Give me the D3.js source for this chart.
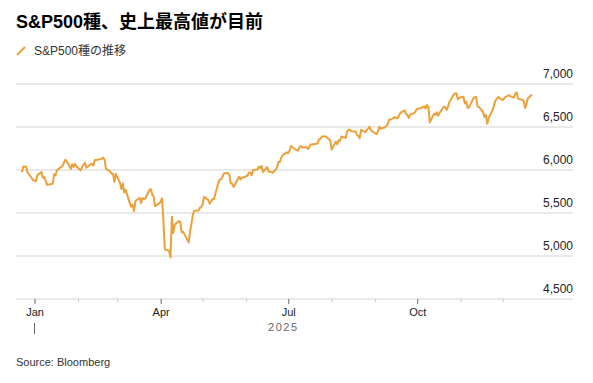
<!DOCTYPE html>
<html>
<head>
<meta charset="utf-8">
<script src="https://cdn.jsdelivr.net/npm/d3@7"></script>
<style>
  body { margin: 0; background: #fff; }
  svg { display: block; font-family: "Liberation Sans", Arial, "Noto Sans CJK JP", sans-serif; }
</style>
</head>
<body>
<svg></svg>
<script>
// S&P500 daily closes, one row per month
const months = ["2024-12", "2025-01", "2025-02", "2025-03", "2025-04", "2025-05", "2025-06",
                "2025-07", "2025-08", "2025-09", "2025-10", "2025-11", "2025-12"]

const days = [
  [23, 24, 26, 27, 30, 31],
  [2, 3, 6, 7, 8, 10, 13, 14, 15, 16, 17, 21, 22, 23, 24, 27, 28, 29, 30, 31],
  [3, 4, 5, 6, 7, 10, 11, 12, 13, 14, 18, 19, 20, 21, 24, 25, 26, 27, 28],
  [3, 4, 5, 6, 7, 10, 11, 12, 13, 14, 17, 18, 19, 20, 21, 24, 25, 26, 27, 28, 31],
  [1, 2, 3, 4, 7, 8, 9, 10, 11, 14, 15, 16, 17, 21, 22, 23, 24, 25, 28, 29, 30],
  [1, 2, 5, 6, 7, 8, 9, 12, 13, 14, 15, 16, 19, 20, 21, 22, 23, 27, 28, 29, 30],
  [2, 3, 4, 5, 6, 9, 10, 11, 12, 13, 16, 17, 18, 20, 23, 24, 25, 26, 27, 30],
  [1, 2, 3, 7, 8, 9, 10, 11, 14, 15, 16, 17, 18, 21, 22, 23, 24, 25, 28, 29, 30, 31],
  [1, 4, 5, 6, 7, 8, 11, 12, 13, 14, 15, 18, 19, 20, 21, 22, 25, 26, 27, 28, 29],
  [2, 3, 4, 5, 8, 9, 10, 11, 12, 15, 16, 17, 18, 19, 22, 23, 24, 25, 26, 29, 30],
  [1, 2, 3, 6, 7, 8, 9, 10, 13, 14, 15, 16, 17, 20, 21, 22, 23, 24, 27, 28, 29, 30, 31],
  [3, 4, 5, 6, 7, 10, 11, 12, 13, 14, 17, 18, 19, 20, 21, 24, 25, 26, 28],
  [1, 2, 3, 4, 5, 8, 9, 10, 11, 12, 15, 16, 17, 18, 19, 22]
]

const closes = [
  [5974, 6040, 6038, 5971, 5907, 5882],
  [5869, 5942, 5975, 5909, 5918, 5827, 5836, 5843, 5950, 5937, 5997, 6049, 6086, 6119, 6101, 6012, 6068, 6039, 6071, 6041],
  [5995, 6038, 6061, 6084, 6026, 6066, 6069, 6052, 6115, 6115, 6130, 6144, 6118, 6013, 5983, 5955, 5956, 5862, 5955],
  [5850, 5778, 5843, 5739, 5770, 5615, 5572, 5599, 5522, 5639, 5675, 5615, 5675, 5663, 5668, 5768, 5777, 5712, 5693, 5581, 5612],
  [5633, 5671, 5397, 5074, 5062, 4983, 5457, 5268, 5363, 5406, 5397, 5276, 5283, 5158, 5288, 5376, 5485, 5525, 5529, 5561, 5569],
  [5604, 5687, 5650, 5607, 5631, 5664, 5660, 5844, 5887, 5893, 5917, 5958, 5964, 5940, 5845, 5842, 5803, 5922, 5889, 5912, 5912],
  [5936, 5970, 5971, 5939, 6000, 6006, 6039, 6022, 6045, 5977, 6033, 5983, 5981, 5968, 6025, 6092, 6092, 6141, 6173, 6205],
  [6198, 6227, 6279, 6230, 6226, 6263, 6280, 6260, 6269, 6244, 6264, 6297, 6297, 6306, 6310, 6359, 6363, 6389, 6390, 6371, 6363, 6339],
  [6238, 6330, 6299, 6345, 6340, 6389, 6373, 6446, 6467, 6469, 6450, 6449, 6411, 6396, 6370, 6467, 6439, 6466, 6481, 6502, 6460],
  [6416, 6448, 6502, 6482, 6495, 6513, 6532, 6587, 6584, 6615, 6607, 6600, 6632, 6664, 6694, 6657, 6638, 6605, 6644, 6661, 6688],
  [6711, 6715, 6716, 6740, 6715, 6754, 6735, 6553, 6655, 6644, 6671, 6629, 6664, 6735, 6735, 6699, 6738, 6792, 6875, 6891, 6891, 6822, 6840],
  [6852, 6772, 6796, 6720, 6729, 6832, 6847, 6851, 6737, 6734, 6672, 6617, 6642, 6539, 6603, 6705, 6766, 6813, 6849],
  [6813, 6829, 6850, 6857, 6870, 6847, 6841, 6887, 6901, 6827, 6817, 6800, 6721, 6775, 6835, 6878]
]

const yTicks = [4500, 5000, 5500, 6000, 6500, 7000]

const title = "S&P500種、史上最高値が目前",
      legendLabel = "S&P500種の推移",
      yearLabel = "2025",
      source = "Source: Bloomberg"

const width = 593, height = 383
const lineColor = "#eba03a"
const left = 16, right = 573

const parseDay = d3.utcParse("%Y-%m-%d")
const data = months.flatMap((m, i) => days[i].map((d, j) => ({
  date: parseDay(`${m}-${String(d).padStart(2, "0")}`),
  value: closes[i][j]
})))

const svg = d3.select("svg")
    .attr("width", width)
    .attr("height", height)

const x = d3.scaleUtc()
    .domain([new Date(Date.UTC(2025, 0, 1)), new Date(Date.UTC(2025, 11, 1))])
    .range([34.5, 502.7])

const y = d3.scaleLinear()
    .domain([4500, 7000])
    .range([299, 84])

// gridlines + labels
svg.append("g")
  .selectAll("line")
  .data(yTicks)
  .join("line")
    .attr("x1", left)
    .attr("x2", right)
    .attr("y1", d => y(d))
    .attr("y2", d => y(d))
    .attr("stroke", "#e2e2e2")
    .attr("stroke-width", 1.5)

svg.append("g")
  .selectAll("text")
  .data(yTicks)
  .join("text")
    .attr("x", right)
    .attr("y", d => y(d) - 6)
    .attr("text-anchor", "end")
    .attr("font-size", 12)
    .attr("fill", "#222")
    .text(d3.format(","))

// minor month ticks
svg.append("g")
    .attr("transform", `translate(0,${y(4500)})`)
    .call(d3.axisBottom(x).ticks(d3.utcMonth.every(1)).tickSize(3).tickFormat(""))
    .call(g => g.select(".domain").remove())
    .call(g => g.selectAll("line").attr("stroke", "#c8c8c8"))

// quarter ticks
svg.append("g")
    .attr("transform", `translate(0,${y(4500)})`)
    .call(d3.axisBottom(x).ticks(d3.utcMonth.every(3)).tickSize(5).tickPadding(4).tickFormat(d3.utcFormat("%b")))
    .call(g => g.select(".domain").remove())
    .call(g => g.selectAll("line").attr("stroke", "#777"))
    .call(g => g.selectAll("text")
        .attr("font-family", null)
        .attr("font-size", 11)
        .attr("fill", "#222"))

// year marker
const yearStart = new Date(Date.UTC(2025, 0, 1))
const lastDate = data[data.length - 1].date
svg.append("line")
    .attr("x1", x(yearStart))
    .attr("x2", x(yearStart))
    .attr("y1", 323)
    .attr("y2", 334)
    .attr("stroke", "#666")

svg.append("text")
    .attr("x", (x(yearStart) + x(lastDate)) / 2)
    .attr("y", 331)
    .attr("text-anchor", "middle")
    .attr("font-size", 11)
    .attr("letter-spacing", 1.5)
    .attr("fill", "#666")
    .text(yearLabel)

// price line
const line = d3.line()
    .x(d => x(d.date))
    .y(d => y(d.value))

svg.append("path")
    .datum(data)
    .attr("fill", "none")
    .attr("stroke", lineColor)
    .attr("stroke-width", 2)
    .attr("stroke-linejoin", "round")
    .attr("d", line)

// header
svg.append("text")
    .attr("x", 16)
    .attr("y", 28)
    .attr("font-size", 18)
    .attr("font-weight", "bold")
    .attr("fill", "#000")
    .text(title)

svg.append("line")
    .attr("x1", 17).attr("y1", 55)
    .attr("x2", 25).attr("y2", 47)
    .attr("stroke", lineColor)
    .attr("stroke-width", 2)

svg.append("text")
    .attr("x", 34)
    .attr("y", 55)
    .attr("font-size", 12)
    .attr("fill", "#333")
    .text(legendLabel)

svg.append("text")
    .attr("x", 16)
    .attr("y", 366)
    .attr("font-size", 11)
    .attr("fill", "#333")
    .text(source)
</script>
</body>
</html>
